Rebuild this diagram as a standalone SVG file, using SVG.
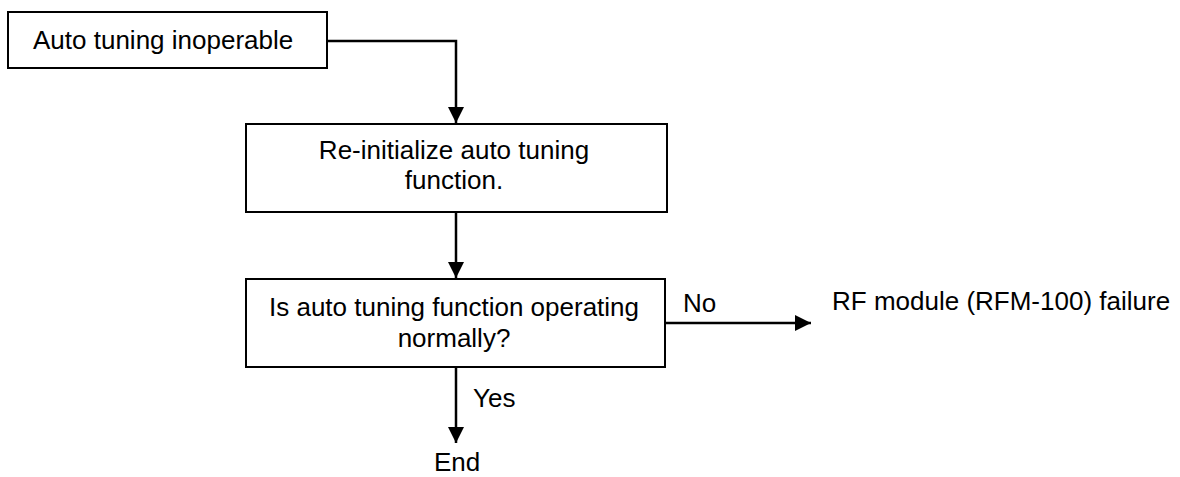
<svg xmlns="http://www.w3.org/2000/svg" width="1180" height="477" viewBox="0 0 1180 477">
<style>
.box{fill:#fff;stroke:#000;stroke-width:2}
.t{font-family:"Liberation Sans",Arial,sans-serif;font-size:26px;fill:#000}
.c{text-anchor:middle}
.ln{fill:none;stroke:#000;stroke-width:2.5}
</style>
<defs>
<marker id="ah" markerUnits="userSpaceOnUse" markerWidth="16" markerHeight="16" viewBox="0 0 16 16" refX="16" refY="8" orient="auto">
<path d="M0,0 L16,8 L0,16 Z" fill="#000"/>
</marker>
</defs>
<rect width="1180" height="477" fill="#fff"/>
<g id="n1">
<rect class="box" x="8" y="12" width="319" height="56"/>
<text class="t" x="33" y="49">Auto tuning inoperable</text>
</g>
<g id="n2">
<rect class="box" x="246" y="124" width="421" height="88"/>
<text class="t c" x="454" y="159">Re-initialize auto tuning</text>
<text class="t c" x="454" y="189">function.</text>
</g>
<g id="n3">
<rect class="box" x="246" y="279" width="419" height="88"/>
<text class="t c" x="454" y="316">Is auto tuning function operating</text>
<text class="t c" x="454" y="347">normally?</text>
</g>
<g id="n4">
<text class="t" x="832" y="310">RF module (RFM-100) failure</text>
</g>
<g id="n5">
<text class="t" x="434" y="471">End</text>
</g>
<g id="connectors">
<path class="ln" d="M327,41 H456 V123" marker-end="url(#ah)"/>
<path class="ln" d="M456,212 V278" marker-end="url(#ah)"/>
<path class="ln" d="M665,323 H811" marker-end="url(#ah)"/>
<path class="ln" d="M456,367 V443" marker-end="url(#ah)"/>
<text class="t" x="683" y="312">No</text>
<text class="t" x="473" y="407">Yes</text>
</g>
</svg>
